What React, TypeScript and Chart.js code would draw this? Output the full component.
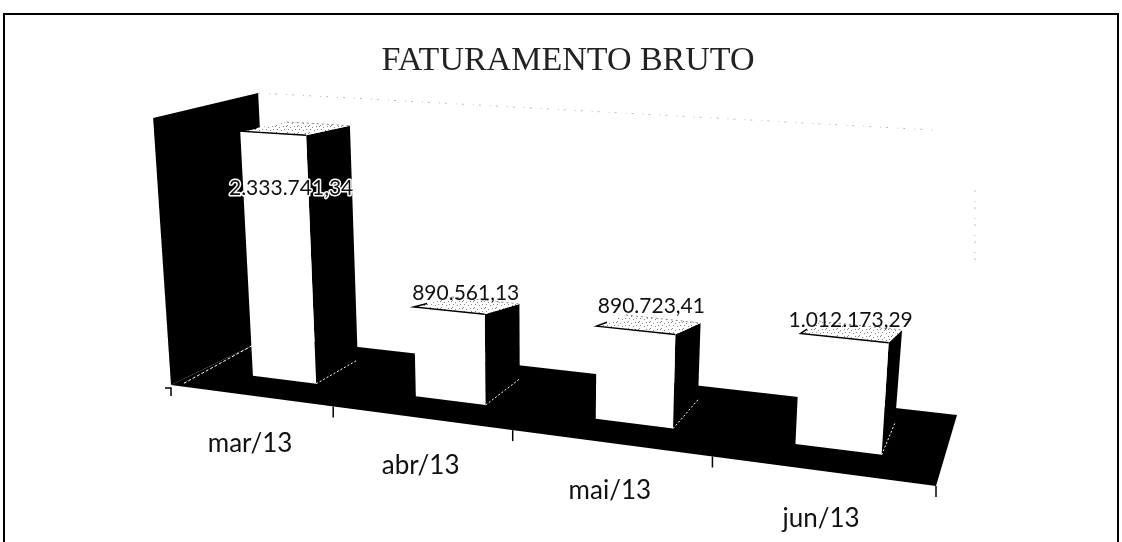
import React, { useEffect, useRef } from "react";
import { Chart, registerables } from "chart.js";

Chart.register(...registerables);

const titleText = "FATURAMENTO BRUTO";
const categories = ["mar/13", "abr/13", "mai/13", "jun/13"];
const revenue = [2333741.34, 890561.13, 890723.41, 1012173.29];
const valueLabels = ["2.333.741,34", "890.561,13", "890.723,41", "1.012.173,29"];
const axisMax = 2500000;

// Layout constants of the 3D view
const labelDx = [-15, -19, -24, -38];
const labelDy = [53, -21, -28, -23];
const Q = [[171, 385], [936, 486], [957, 415], [270, 337]]; // floor corners
const VP = [540, 5900];
const D0 = 0.3, D1 = 0.77, U_SHIFT = 0.0065, TOP_DEPTH = 0.4, WARP = 1.087;

function homography() {
  const [[x0, y0], [x1, y1], [x2, y2], [x3, y3]] = Q;
  const dx1 = x1 - x2, dx2 = x3 - x2, dx3 = x0 - x1 + x2 - x3;
  const dy1 = y1 - y2, dy2 = y3 - y2, dy3 = y0 - y1 + y2 - y3;
  const den = dx1 * dy2 - dx2 * dy1;
  const g = (dx3 * dy2 - dx2 * dy3) / den;
  const h = (dx1 * dy3 - dx3 * dy1) / den;
  const a = x1 - x0 + g * x1, b = x3 - x0 + h * x3;
  const d = y1 - y0 + g * y1, e = y3 - y0 + h * y3;
  return (u: number, v: number) => {
    const w = g * u + h * v + 1;
    return [(a * u + b * v + x0) / w, (d * u + e * v + y0) / w];
  };
}
const floor = homography();

function fullHeight(u: number, v: number) {
  const left = 267 + (244 - 267) * v;
  const right = 307 + (292 - 307) * v;
  return left + (right - left) * u;
}
// frac: share of the value axis height
function project(u: number, v: number, frac: number) {
  const [x, y] = floor(u, v);
  const H = fullHeight(u, v) * Math.pow(frac, WARP);
  return [x + ((x - VP[0]) / (VP[1] - y)) * H, y - H];
}
function poly(ctx: CanvasRenderingContext2D, pts: number[][]) {
  ctx.beginPath();
  pts.forEach((p, i) => (i ? ctx.lineTo(p[0], p[1]) : ctx.moveTo(p[0], p[1])));
  ctx.closePath();
}
function speckle(ctx: CanvasRenderingContext2D) {
  const c = document.createElement("canvas");
  c.width = 11;
  c.height = 7;
  const k = c.getContext("2d")!;
  k.fillStyle = "#fff";
  k.fillRect(0, 0, 11, 7);
  k.fillStyle = "#888";
  [[0, 0], [4, 1], [8, 0], [2, 3], [9, 3], [6, 4], [1, 6]].forEach(([x, y]) => k.fillRect(x, y, 1, 1));
  return ctx.createPattern(c, "repeat")!;
}

const scene = {
  id: "scene",
  afterDatasetsDraw(chart: any) {
    const ctx: CanvasRenderingContext2D = chart.ctx;
    const { left, right, top, bottom } = chart.chartArea;
    const U = (x: number) => (x - left) / (right - left);
    const F = (y: number) => (bottom - y) / (bottom - top);
    ctx.save();

    // frame
    ctx.strokeStyle = "#000";
    ctx.lineWidth = 2;
    ctx.beginPath();
    ctx.moveTo(4, 544);
    ctx.lineTo(4, 14);
    ctx.lineTo(1118, 14);
    ctx.lineTo(1118, 544);
    ctx.stroke();

    // back wall faint dots
    const backTopL = project(0, 1, 1);
    const backTopR = project(0.95, 1, 0.97);
    ctx.strokeStyle = "#bbb";
    ctx.lineWidth = 1;
    ctx.setLineDash([2, 9, 1, 5]);
    ctx.beginPath();
    ctx.moveTo(backTopL[0], backTopL[1]);
    ctx.lineTo(backTopR[0], backTopR[1]);
    ctx.moveTo(975, backTopR[1] + 60);
    ctx.lineTo(975, backTopR[1] + 130);
    ctx.stroke();
    ctx.setLineDash([]);

    // side wall
    ctx.fillStyle = "#000";
    poly(ctx, [project(0, 0, 0), project(0, 0, 1), project(0, 1, 1), project(0, 1, 0)]);
    ctx.fill();
    // floor
    poly(ctx, [floor(0, 0), floor(1, 0), floor(1, 1), floor(0, 1)]);
    ctx.fill();
    // dotted corner line
    ctx.strokeStyle = "#fff";
    ctx.setLineDash([3, 2]);
    const a0 = floor(0.012, 0.05), a1 = floor(0, 0.8);
    ctx.beginPath();
    ctx.moveTo(a0[0], a0[1]);
    ctx.lineTo(a1[0], a1[1]);
    ctx.stroke();
    ctx.setLineDash([]);

    // ticks
    ctx.strokeStyle = "#000";
    ctx.lineWidth = 1.5;
    for (let i = 0; i <= categories.length; i++) {
      const [x, y] = floor(i / categories.length, 0);
      ctx.beginPath();
      if (i === 0) {
        ctx.moveTo(x - 6, y + 3);
        ctx.lineTo(x, y + 3);
      } else {
        ctx.moveTo(x, y);
      }
      ctx.lineTo(x, y + 11);
      ctx.stroke();
    }

    // bars
    const pat = speckle(ctx);
    const meta = chart.getDatasetMeta(0);
    const tops: number[][] = [];
    meta.data.forEach((bar: any) => {
      const p = bar.getProps(["x", "y", "base", "width"], true);
      const u0 = U(p.x - p.width / 2) + U_SHIFT, u1 = U(p.x + p.width / 2) + U_SHIFT;
      const f = F(p.y);
      const fbl = project(u0, D0, 0), fbr = project(u1, D0, 0);
      const bbr = project(u1, D1, 0), bbl = project(u0, D1, 0);
      const ftl = project(u0, D0, f), ftr = project(u1, D0, f);
      const btr = [project(u1, D1, f)[0], ftr[1] - TOP_DEPTH * (fbr[1] - bbr[1])];
      const btl = [project(u0, D1, f)[0], ftl[1] - TOP_DEPTH * (fbl[1] - bbl[1])];
      tops.push(ftr);
      // side
      ctx.fillStyle = "#000";
      poly(ctx, [fbr, ftr, btr, bbr]);
      ctx.fill();
      // dotted base of side
      ctx.strokeStyle = "#fff";
      ctx.lineWidth = 1;
      ctx.setLineDash([2, 2]);
      ctx.beginPath();
      ctx.moveTo(fbr[0], fbr[1]);
      ctx.lineTo(bbr[0], bbr[1]);
      ctx.stroke();
      ctx.setLineDash([]);
      // top
      ctx.fillStyle = pat;
      poly(ctx, [ftl, ftr, btr, btl]);
      ctx.fill();
      ctx.strokeStyle = "#888";
      ctx.lineWidth = 1;
      ctx.setLineDash([2, 3]);
      ctx.beginPath();
      ctx.moveTo(btl[0], btl[1]);
      ctx.lineTo(btr[0], btr[1]);
      ctx.stroke();
      ctx.setLineDash([]);
      // front
      ctx.fillStyle = "#fff";
      poly(ctx, [fbl, fbr, ftr, ftl]);
      ctx.fill();
      // front-top edge and the short stroke back from its left corner
      ctx.strokeStyle = "#000";
      ctx.lineWidth = 1.5;
      ctx.beginPath();
      ctx.moveTo(ftl[0] + (btl[0] - ftl[0]) * 0.35, ftl[1] + (btl[1] - ftl[1]) * 0.35);
      ctx.lineTo(ftl[0], ftl[1]);
      ctx.lineTo(ftr[0], ftr[1]);
      ctx.stroke();
    });

    // value labels
    ctx.font = "21px Lato";
    ctx.textAlign = "center";
    ctx.textBaseline = "middle";
    ctx.lineJoin = "round";
    meta.data.forEach((_: any, i: number) => {
      const lx = tops[i][0] + labelDx[i], ly = tops[i][1] + labelDy[i];
      if (i === 0) {
        ctx.strokeStyle = "#fff";
        ctx.lineWidth = 3;
        ctx.strokeText(valueLabels[i], lx, ly);
      }
      ctx.fillStyle = "#111";
      ctx.fillText(valueLabels[i], lx, ly);
    });

    // category labels
    ctx.font = "26px Lato";
    ctx.fillStyle = "#111";
    const xs = chart.scales.x;
    categories.forEach((c, i) => {
      const [x, y] = floor(U(xs.getPixelForTick(i)), 0);
      ctx.fillText(c, x, y + 48);
    });
    ctx.restore();
  },
};

export default function App() {
  const ref = useRef<HTMLCanvasElement>(null);
  useEffect(() => {
    const chart = new Chart(ref.current!, {
      type: "bar",
      data: {
        labels: categories,
        datasets: [{ data: revenue, backgroundColor: "rgba(0,0,0,0)", barPercentage: 0.4, categoryPercentage: 1 }],
      },
      plugins: [scene],
      options: {
        responsive: false,
        animation: false,
        events: [],
        layout: { padding: { left: 14, top: 10 } },
        plugins: {
          legend: { display: false },
          tooltip: { enabled: false },
          title: {
            display: true,
            text: titleText,
            color: "#222",
            font: { family: "'Liberation Serif'", size: 34, weight: "normal" },
            padding: { top: 31, bottom: 10 },
          },
        },
        scales: {
          x: { display: false, offset: true },
          y: { display: false, min: 0, max: axisMax },
        },
      },
    });
    return () => chart.destroy();
  }, []);
  return (
    <div style={{ position: "fixed", left: 0, top: 0, width: 1122, height: 542, background: "#fff" }}>
      <canvas ref={ref} width={1122} height={542} style={{ display: "block" }} />
    </div>
  );
}
